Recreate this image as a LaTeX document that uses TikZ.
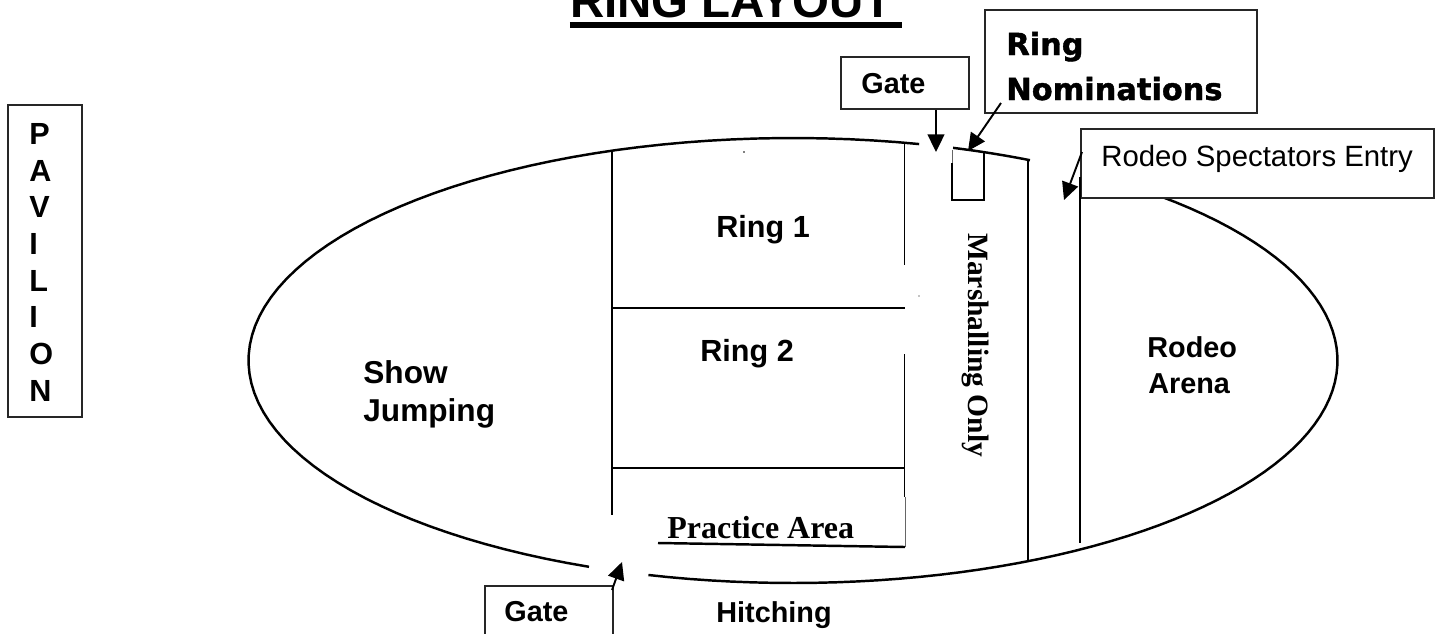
\documentclass[tikz,border=0pt]{standalone}
\usepackage{fontspec}
\setmainfont{Liberation Sans}
\newfontfamily\timesfont{Liberation Serif}
\newfontfamily\blackfont[FakeBold=1.3]{DejaVu Sans Bold}
\usetikzlibrary{arrows.meta}
\tikzset{
    ringline/.style={line width=1.4pt},
    thinline/.style={line width=1pt},
    pointer/.style={line width=1.1pt, -{Triangle[length=10pt, width=9.5pt]}},
    labelbox/.style={draw=black!85, line width=1pt, fill=white},
    boldlabel/.style={inner sep=0pt, anchor=base west, font=\fontsize{#1}{20}\selectfont\bfseries},
    boldlabel/.default=16.4,
    seriflabel/.style={inner sep=0pt, anchor=base west, font=\fontsize{#1}{20}\selectfont\timesfont\bfseries},
    nomlabel/.style={inner sep=0pt, anchor=base west, font=\fontsize{17.3}{20}\selectfont\blackfont},
}

\begin{document}
\begin{tikzpicture}[x=0.02cm, y=-0.02cm]
    \useasboundingbox (0, 0) rectangle (1438, 633);

    % outline of the grounds
    \foreach \from/\to in {112/283.4, -72.9/-64.2, -47.6/105.4}{
        \draw[ringline] plot[domain=\from:\to, samples=70] ({793+544.5*cos(\x)}, {360.5+222.5*sin(\x)});
    }

    % ring dividers
    \draw[thinline] (612, 152) -- (612, 515);
    \draw[thinline] (904.5, 142) -- (904.5, 265);
    \draw[thinline] (904.5, 354) -- (904.5, 497);
    \draw[line width=0.35pt, black!60] (905, 497) -- (905, 547);
    \draw[thinline] (612, 308) -- (905, 308);
    \draw[thinline] (612, 468) -- (905, 468);
    \draw[ringline] (658, 543) -- (905, 547);
    \draw[thinline] (1028, 161) -- (1028, 561);
    \draw[line width=0.35pt, black!60] (952, 150) -- (952, 163);
    \draw[thinline] (952, 163) -- (952, 200) -- (984, 200) -- (984, 151);

    \fill (744, 152) circle (0.5pt);
    \fill (919, 296) circle (0.3pt);

    % boxes
    \node[labelbox, minimum width=2.56cm, minimum height=1.04cm, anchor=north west] (gateTop) at (840, 56) {};
    \node[boldlabel] (gateTopLab) at (861, 93) {Gate};
    \node[labelbox, minimum width=5.44cm, minimum height=2.06cm, anchor=north west] (nomBox) at (984, 9) {};
    \node[nomlabel] (nomLabA) at (1006, 55) {Ring};
    \node[nomlabel] (nomLabB) at (1006, 100) {Nominations};
    \node[labelbox, minimum width=7.06cm, minimum height=1.38cm, anchor=north west] (rodeoBox) at (1080, 128) {};
    \node[inner sep=0pt, anchor=base west, font=\fontsize{16.7}{20}\selectfont] (rodeoLab) at (1101, 166) {Rodeo Spectators Entry};
    \node[labelbox, minimum width=1.48cm, minimum height=6.24cm, anchor=north west] (pavBox) at (7, 104) {};
    \node[inner sep=0pt, anchor=north west, align=left, font=\fontsize{17.4}{20.9}\selectfont\bfseries] (pavLab) at (29, 123) {P\\A\\V\\I\\L\\I\\O\\N};
    \node[labelbox, minimum width=2.56cm, minimum height=1.2cm, anchor=north west] (gateBot) at (484, 585) {};
    \node[boldlabel] (gateBotLab) at (504, 621) {Gate};

    \draw[thinline] (1080, 177) -- (1080, 543);

    % arrows
    \coordinate (gateTip) at (936, 152);
    \coordinate (nomTail) at (1001, 103);
    \coordinate (nomTip) at (968, 151);
    \coordinate (rodeoTail) at (1082, 152);
    \coordinate (rodeoTip) at (1064, 200);
    \coordinate (botTail) at (612, 590);
    \coordinate (botTip) at (622, 562);
    \draw[pointer] (gateTip |- gateTop.south) -- (gateTip);
    \draw[pointer] (nomTail) -- (nomTip);
    \draw[pointer] (rodeoTail) -- (rodeoTip);
    \draw[pointer] (botTail) -- (botTip);

    % labels
    \node[boldlabel=17.4] (ringOne) at (716, 237) {Ring 1};
    \node[boldlabel=17.4] (ringTwo) at (700, 361) {Ring 2};
    \node[boldlabel=18] (showLab) at (363, 383) {Show};
    \node[boldlabel=18] (jumpLab) at (363, 421) {Jumping};
    \node[boldlabel] (rodeoLabA) at (1147, 357) {Rodeo};
    \node[boldlabel] (arenaLab) at (1148, 393) {Arena};
    \node[boldlabel] (hitchLab) at (716, 622) {Hitching};
    \node[seriflabel=16.8, rotate=-90] (marshLab) at (968, 233) {Marshalling Only};
    \node[seriflabel=18.2] (practiceLab) at (667, 538) {Practice Area};

    \node[inner sep=0pt, anchor=base east, font=\fontsize{27}{30}\selectfont\bfseries] (titleLab) at (893, 17) {RING LAYOUT};
    \coordinate (titleEnd) at (902, 25);
    \draw[line width=3.4pt] (titleLab.west |- titleEnd) -- (titleEnd);
\end{tikzpicture}
\end{document}
